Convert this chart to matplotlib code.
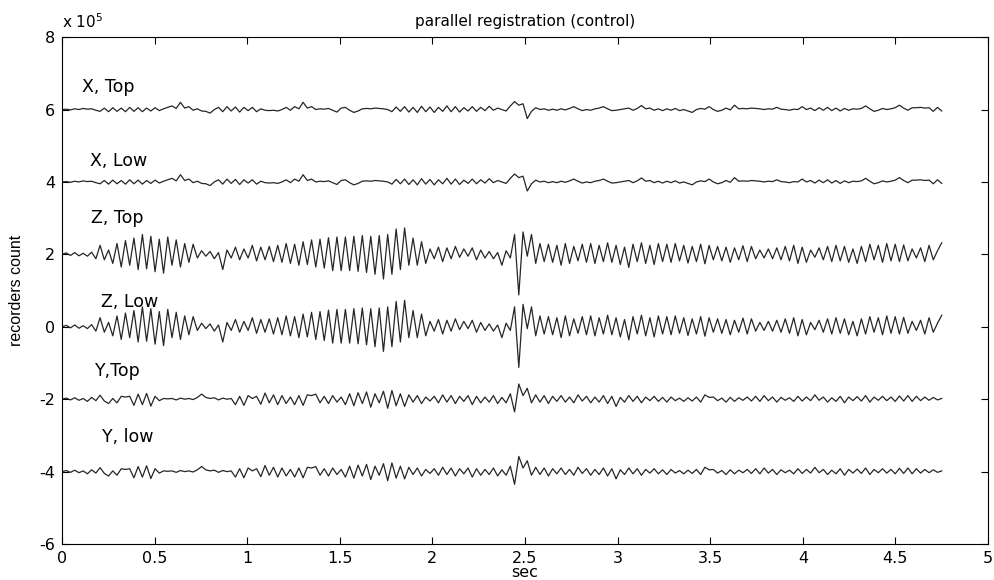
import numpy as np
import matplotlib
matplotlib.use("Agg")
import matplotlib.pyplot as plt
from matplotlib.ticker import FuncFormatter, MultipleLocator

plt.rcParams['font.family'] = ['DejaVu Sans']
plt.rcParams['mathtext.fontset'] = 'dejavusans'

# recording length (s) and count scale
duration = 4.75
scale = 1e5

# waveforms, in units of 1e5 counts, relative to each trace's baseline
x_wave = [
    0.0, 0.01, -0.01, 0.02, 0.0, 0.03, 0.01, 0.02, -0.02,
    -0.05, 0.04, -0.06, 0.05, -0.05, 0.04, -0.06, 0.06, -0.05, 0.05, -0.06, 0.04, -0.04, 0.05, -0.03, 0.02,
    0.06, 0.10, 0.03, 0.20, 0.04,
    0.08, -0.02, 0.02, -0.04, -0.05, -0.10,
    0.0, 0.06, -0.06, 0.08, -0.04, 0.07, -0.07, 0.06, -0.03, 0.06, -0.06, 0.02,
    -0.02, -0.03, -0.02, -0.04, 0.0, 0.06, -0.02, 0.08,
    0.02, 0.20, 0.04,
    0.08, 0.0, 0.02, 0.01, 0.03, -0.02,
    -0.07, 0.04, 0.06, -0.02, -0.08,
    -0.04, 0.02, 0.03, 0.02, 0.04, 0.03, 0.02, 0.0,
    -0.06, 0.07, -0.05, 0.08, -0.07, 0.06, -0.08, 0.09, -0.06, 0.07, -0.08, 0.06, -0.05,
    0.10, -0.06, 0.08, -0.07, 0.05, -0.04, 0.08, -0.05, 0.06, -0.03, 0.09, -0.02, 0.04,
    0.0, -0.04, 0.10, 0.22, 0.12, 0.16, -0.25, -0.05, 0.05,
    0.0, 0.02, -0.02, 0.01, -0.02, 0.02, -0.01, 0.03,
    0.08,
    0.02, -0.03, 0.0, -0.02, 0.02, 0.04,
    0.08,
    0.02, -0.03, -0.02, 0.0, 0.02, 0.04, -0.02, 0.03,
    0.11,
    0.02, 0.04, -0.02, 0.02, -0.03, 0.02, -0.02, 0.03, -0.03, 0.0, -0.04,
    -0.08,
    0.0, 0.03, 0.01,
    0.08,
    0.0, -0.05, -0.02, 0.04, -0.01,
    0.12,
    0.02, 0.03, 0.02, 0.04, 0.03, 0.02, 0.0, 0.02, 0.01, 0.06, 0.01, 0.0, -0.02, 0.01, 0.0,
    0.08,
    0.0, 0.04, -0.03, 0.05, -0.02, 0.06, -0.03, 0.04, -0.04, 0.03, -0.02, 0.02, 0.01, 0.03,
    0.10,
    0.02, -0.05, -0.02, 0.03, 0.0, 0.02, 0.05,
    0.12,
    0.04, -0.02, 0.05, 0.05, 0.06, 0.04, 0.05, -0.05, 0.06, -0.04,
]

z_wave = [
    0.00, 0.04, -0.03, 0.05, -0.04, 0.03, -0.05, 0.06, -0.12,
    0.25, -0.15, 0.12, -0.25,
    0.30, -0.35, 0.38, -0.30, 0.45, -0.42, 0.55, -0.40, 0.50, -0.48, 0.42, -0.52, 0.48, -0.30, 0.40, -0.35,
    0.30, -0.22, 0.28,
    -0.10, 0.10, -0.05, 0.08, -0.12, 0.05,
    -0.42,
    0.12, -0.10, 0.20, -0.15, 0.15, -0.10, 0.25, -0.18, 0.20, -0.15, 0.22, -0.20, 0.25, -0.22,
    0.30, -0.25, 0.28, -0.30, 0.35, -0.28, 0.40, -0.35, 0.42, -0.38, 0.46, -0.45, 0.48,
    -0.45, 0.48, -0.45, 0.50, -0.47, 0.52, -0.50, 0.50, -0.55, 0.52, -0.68, 0.55, -0.55, 0.70, -0.42,
    0.73, -0.30, 0.45, -0.30, 0.35,
    -0.25, 0.15, -0.12, 0.20, -0.20, 0.18, -0.12, 0.22, -0.08, 0.15, -0.05, 0.18, -0.15, 0.12, -0.10,
    0.08, -0.12, 0.05,
    -0.30, 0.10, -0.10, 0.55, -1.12, 0.62, -0.05, 0.55, -0.25,
    0.30, -0.20, 0.28, -0.22, 0.25, -0.30, 0.30, -0.25, 0.22, -0.18, 0.28, -0.22, 0.30, -0.25, 0.25,
    -0.20, 0.32, -0.22, 0.25, -0.28, 0.20, -0.36, 0.28, -0.20, 0.32, -0.25,
    0.25, -0.28, 0.30, -0.20, 0.28, -0.22, 0.30, -0.18, 0.25, -0.24, 0.22, -0.20, 0.28, -0.26, 0.25,
    -0.15, 0.22, -0.18, 0.20, -0.22, 0.18, -0.15, 0.24, -0.20, 0.22,
    -0.12, 0.12, -0.10, 0.15, -0.12, 0.18, -0.15, 0.22, -0.18, 0.25,
    -0.25, 0.20, -0.22, 0.12, -0.08, 0.18, -0.15, 0.22, -0.20, 0.25, -0.18, 0.22, -0.22, 0.15,
    -0.25, 0.22, -0.20, 0.28, -0.15, 0.25, -0.22, 0.30, -0.18, 0.28, -0.20, 0.26, -0.18,
    0.15, -0.10, 0.18, -0.20, 0.25, -0.15, 0.10, 0.32,
]

y_wave = [
    0.0, 0.03, -0.02, 0.04, -0.03, 0.02, -0.06, 0.05, -0.04,
    0.11, -0.05, -0.12, 0.02, -0.10, 0.08, 0.06, 0.08, -0.17, 0.14, -0.15, 0.16, -0.19, 0.08, -0.04, 0.02,
    0.01, 0.02, -0.02, 0.03, 0.00, 0.02, -0.01, 0.05,
    0.14,
    0.05, 0.02, 0.04, -0.02, 0.03, 0.00, 0.02, -0.15, 0.08, -0.17,
    0.10, 0.02, 0.08, -0.14, 0.17, -0.10, 0.12, -0.15, 0.10, -0.12, 0.06, -0.15, 0.10, -0.17, 0.12, 0.10,
    0.14, -0.10, 0.08, -0.12, 0.10, -0.08, 0.06,
    -0.15, 0.15, -0.18, 0.18, -0.12, 0.20, -0.22, 0.15, -0.10, 0.22, -0.25, 0.24, -0.18, 0.15, -0.20, 0.12,
    -0.08, 0.10, -0.12, 0.06,
    -0.05, 0.08, -0.10, 0.12, -0.08, 0.10, -0.12, 0.08, -0.06, 0.10, -0.15, 0.08, -0.10, 0.06, -0.08, 0.10,
    -0.12, 0.05,
    -0.10, 0.15, -0.35, 0.42, 0.10, 0.30, -0.10,
    0.12, -0.08, 0.10, -0.12, 0.08, -0.06, 0.10, -0.08, 0.06, -0.10, 0.12, -0.05, 0.08, -0.10, 0.06, -0.08,
    0.10, -0.12, 0.08, -0.20, 0.05, -0.08, 0.10, -0.06, 0.08, -0.10, 0.06, -0.04, 0.08, -0.06, 0.05, -0.08,
    0.06, -0.04, 0.03, -0.06, 0.04, -0.05, 0.06, -0.08, 0.12, 0.05, 0.06, -0.04, 0.03, -0.08, 0.05, -0.06,
    0.04, -0.03, 0.06, -0.05, 0.08, -0.06, 0.10, -0.04, 0.06, -0.08, 0.05, -0.03, 0.04, -0.06, 0.08, -0.05,
    0.06, -0.04, 0.12, -0.03, 0.06, -0.08, 0.04, -0.06, 0.08, -0.10, 0.06, -0.04, 0.07, -0.05, 0.10, -0.08,
    0.06, -0.03, 0.08, -0.04, 0.06, -0.06, 0.09, -0.05, 0.10, -0.06, 0.08, -0.04, 0.06, -0.03, 0.05, -0.02,
    0.02,
]

# trace names, baselines (x 1e5 counts) and the waveform each recorder shows
trace_labels = ["X, Top", "X, Low", "Z, Top", "Z, Low", "Y,Top", "Y, low"]
trace_offsets = [6, 4, 2, 0, -2, -4]
trace_waves = [x_wave, x_wave, z_wave, z_wave, y_wave, y_wave]
label_pos = [(0.11, 6.62), (0.15, 4.58), (0.155, 3.0), (0.21, 0.68), (0.18, -1.22), (0.215, -3.05)]

fig = plt.figure(figsize=(9.94, 5.8), dpi=100)
ax = fig.add_axes([0.0624, 0.062, 0.9316, 0.874])

for label, off, wave, (lx, ly) in zip(trace_labels, trace_offsets, trace_waves, label_pos):
    w = np.asarray(wave)
    t = np.linspace(0, duration, len(w))
    ax.plot(t, (w + off) * scale, color='#262626', lw=0.9)
    ax.text(lx, ly * scale, label, fontsize=12.5, ha='left', va='center')

ax.set_xlim(0, 5)
ax.set_ylim(-6 * scale, 8 * scale)
ax.xaxis.set_major_locator(MultipleLocator(0.5))
ax.yaxis.set_major_locator(MultipleLocator(2 * scale))
ax.xaxis.set_major_formatter(FuncFormatter(lambda v, p: f"{v:g}"))
ax.yaxis.set_major_formatter(FuncFormatter(lambda v, p: f"{v / scale:g}"))
ax.tick_params(direction='in', length=5, top=True, right=True, labelsize=11.5, width=0.8)
ax.tick_params(axis='x', pad=5)
ax.tick_params(axis='y', pad=5)
for s in ax.spines.values():
    s.set_linewidth(0.8)

ax.text(0, 1.012, r"x 10$^5$", transform=ax.transAxes, fontsize=11, ha='left', va='bottom')
ax.set_title("parallel registration (control)", fontsize=11, pad=8)
ax.set_xlabel("sec", fontsize=11.5)
ax.xaxis.set_label_coords(0.5, -0.042)
ax.set_ylabel("recorders count", family='Liberation Sans', fontsize=11.5)
ax.yaxis.set_label_coords(-0.041, 0.5)

fig.savefig("out.png", dpi=100)
